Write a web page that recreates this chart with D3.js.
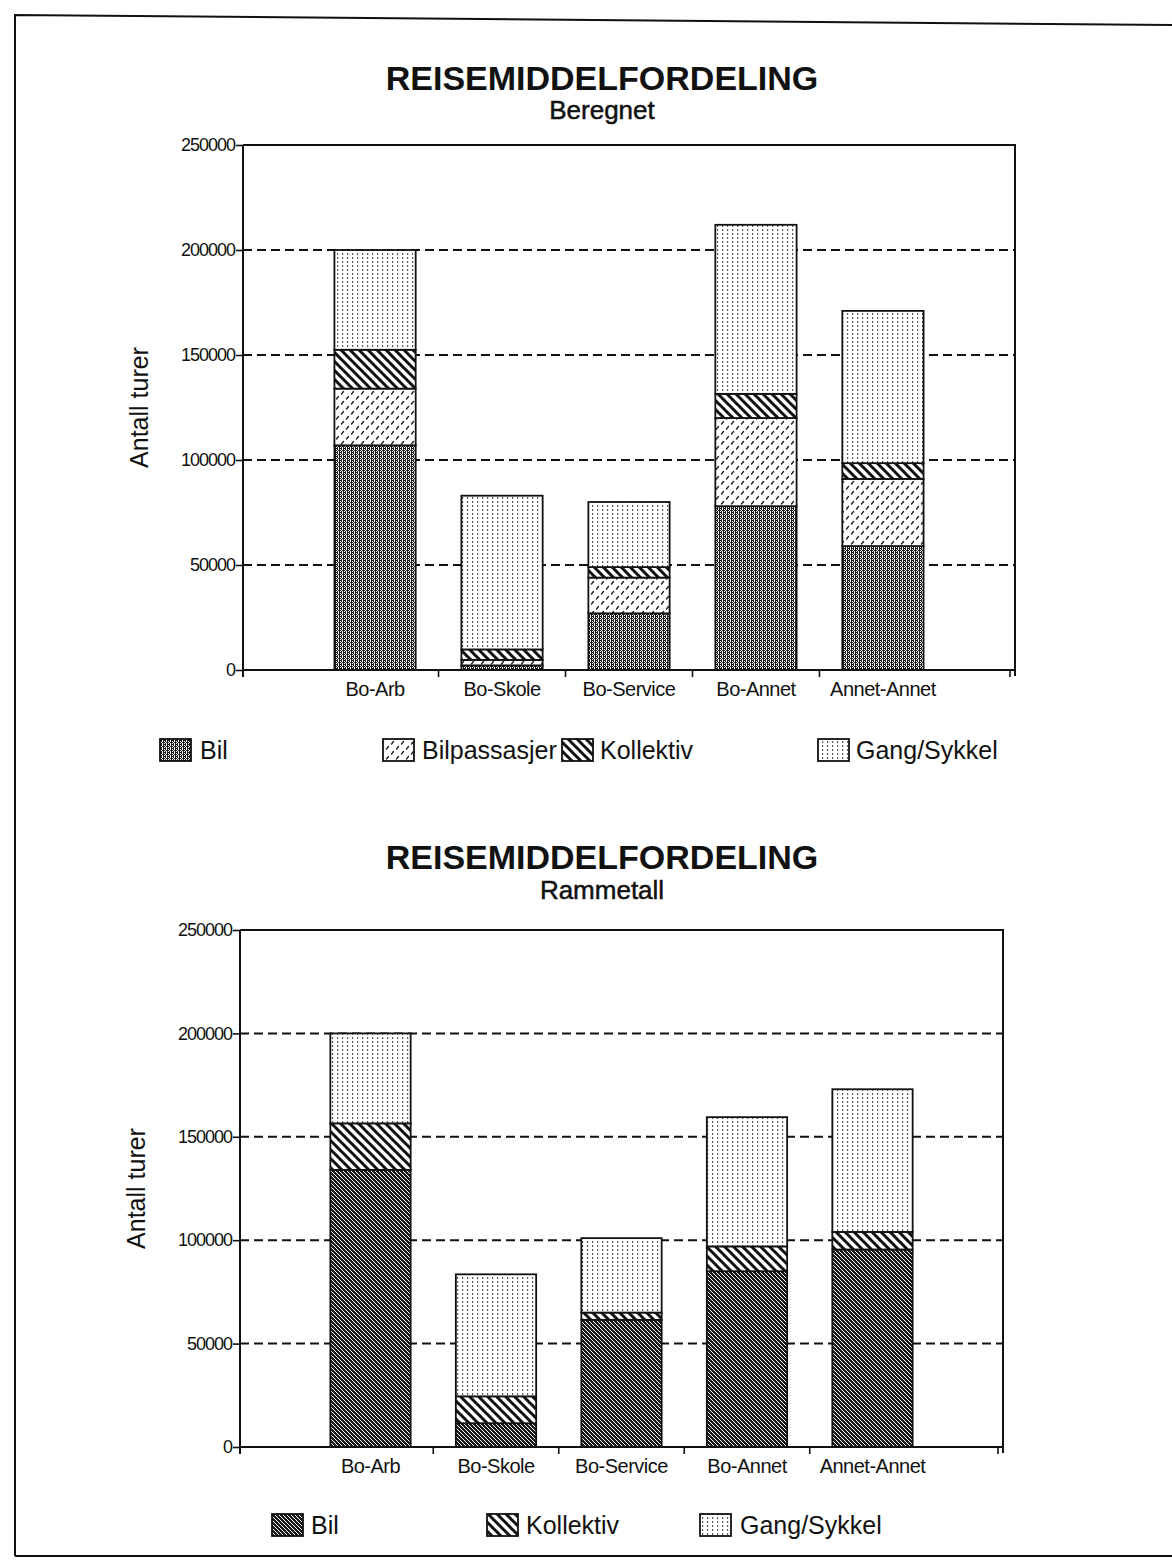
<!DOCTYPE html>
<html>
<head>
<meta charset="utf-8">
<script src="https://cdn.jsdelivr.net/npm/d3@7"></script>
<style>
  body { margin: 0; background: #fff; }
  svg { display: block; }
  text { font-family: "Liberation Sans", Arial, Helvetica, sans-serif; fill: #111; }
</style>
</head>
<body>
<svg id="page" width="1172" height="1564"></svg>
<script>
// ---- data -------------------------------------------------------------
const categories = ["Bo-Arb", "Bo-Skole", "Bo-Service", "Bo-Annet", "Annet-Annet"];
const yTickValues = [0, 50000, 100000, 150000, 200000, 250000];
const gridValues = [50000, 100000, 150000, 200000];

// Beregnet (computed trips)
const beregnetBil          = [107000,  2200, 27000, 78000, 59000];
const beregnetBilpassasjer = [ 27000,  2600, 17000, 42000, 32000];
const beregnetKollektiv    = [ 18500,  5000,  5000, 11500,  7500];
const beregnetGangSykkel   = [ 47500, 73200, 31000, 80500, 72500];

// Rammetall (control totals)
const rammeBil        = [134000, 11500, 61500, 85000, 95500];
const rammeKollektiv  = [ 22500, 13000,  3500, 12000,  8500];
const rammeGangSykkel = [ 43500, 59000, 36000, 62500, 69000];

// ---- page --------------------------------------------------------------
const svg = d3.select("#page");
const defs = svg.append("defs");

function pixelPattern(id, rows, ink) {
  const h = rows.length, w = rows[0].length;
  const p = defs.append("pattern").attr("id", id)
    .attr("patternUnits", "userSpaceOnUse").attr("width", w).attr("height", h);
  p.append("rect").attr("width", w).attr("height", h).attr("fill", "#fff");
  rows.forEach((row, j) => [...row].forEach((c, i) => {
    if (c === "X") p.append("rect").attr("x", i).attr("y", j).attr("width", 1).attr("height", 1).attr("fill", ink);
  }));
}

// private car: mottled dark texture (lighter and darker variant)
pixelPattern("patBil", ["XX.X", ".X.X", "X.XX", ".X.X"], "#1a1a1a");
pixelPattern("patBilDark", [".XXX", "X.XX", "XX.X", "XXX."], "#1a1a1a");

// car passenger: small slanted marks on white
{
  const p = defs.append("pattern").attr("id", "patPass")
    .attr("patternUnits", "userSpaceOnUse").attr("width", 10).attr("height", 10);
  p.append("rect").attr("width", 10).attr("height", 10).attr("fill", "#fff");
  p.append("path").attr("d", "M1.5,4 L3.5,1.5 M6.5,9 L8.5,6.5")
    .attr("stroke", "#222").attr("stroke-width", 1.4).attr("stroke-linecap", "round");
}

// public transport: diagonal stripes
{
  const p = defs.append("pattern").attr("id", "patKoll")
    .attr("patternUnits", "userSpaceOnUse").attr("width", 9).attr("height", 9);
  p.append("rect").attr("width", 9).attr("height", 9).attr("fill", "#fff");
  p.append("path").attr("d", "M-1,-1 L10,10 M-1,8 L1,10 M8,-1 L10,1")
    .attr("stroke", "#111").attr("stroke-width", 3);
}

// walk / bicycle: fine dot grid
{
  const p = defs.append("pattern").attr("id", "patGang")
    .attr("patternUnits", "userSpaceOnUse").attr("width", 5).attr("height", 4);
  p.append("rect").attr("width", 5).attr("height", 4).attr("fill", "#fff");
  p.append("rect").attr("x", 2).attr("y", 1.2).attr("width", 1.2).attr("height", 1.6).attr("fill", "#333");
}

// page frame
svg.append("path").attr("d", "M15,1556 L15,15 L1172,25 M15,1556 L1172,1556")
  .attr("fill", "none").attr("stroke", "#111").attr("stroke-width", 2);

function drawChart(cfg) {
  const g = svg.append("g");
  const x = d3.scaleBand().domain(categories)
    .range([cfg.left, cfg.right]).paddingInner(0.36).paddingOuter(0.72);
  const y = d3.scaleLinear().domain([0, 250000]).range([cfg.bottom, cfg.top]);

  // titles
  g.append("text").attr("x", 602).attr("y", cfg.titleY).attr("text-anchor", "middle")
    .attr("font-size", 34).attr("font-weight", "bold").text("REISEMIDDELFORDELING");
  g.append("text").attr("x", 602).attr("y", cfg.subtitleY).attr("text-anchor", "middle")
    .attr("font-size", 26).attr("stroke", "#111").attr("stroke-width", 0.5).text(cfg.subtitle);

  // dashed grid
  g.selectAll("line.grid").data(gridValues).join("line").attr("class", "grid")
    .attr("x1", cfg.left).attr("x2", cfg.right)
    .attr("y1", d => y(d)).attr("y2", d => y(d))
    .attr("stroke", "#111").attr("stroke-width", 2).attr("stroke-dasharray", "9 5");

  // stacked bars
  const keys = cfg.series.map(s => s.name);
  const rows = categories.map((c, i) => {
    const r = { category: c };
    cfg.series.forEach(s => { r[s.name] = s.values[i]; });
    return r;
  });
  const stacked = d3.stack().keys(keys)(rows);
  const fillOf = Object.fromEntries(cfg.series.map(s => [s.name, s.pattern]));
  g.selectAll("g.layer").data(stacked).join("g").attr("class", "layer")
    .attr("fill", d => `url(#${fillOf[d.key]})`)
    .selectAll("rect").data(d => d).join("rect")
    .attr("x", d => x(d.data.category)).attr("width", x.bandwidth())
    .attr("y", d => y(d[1])).attr("height", d => y(d[0]) - y(d[1]))
    .attr("stroke", "#111").attr("stroke-width", 1.8);

  // frame: top and right edges
  g.append("path")
    .attr("d", `M${cfg.left},${y(250000)} H${cfg.right} V${y(0) + 6}`)
    .attr("fill", "none").attr("stroke", "#111").attr("stroke-width", 2);

  // y axis
  const yAxis = g.append("g").attr("transform", `translate(${cfg.left},0)`)
    .call(d3.axisLeft(y).tickValues(yTickValues).tickFormat(d3.format("d")).tickSize(7).tickPadding(1));
  yAxis.select(".domain").remove();
  yAxis.append("line").attr("x1", 0).attr("x2", 0).attr("y1", y(250000)).attr("y2", y(0) + 7)
    .attr("stroke", "#111").attr("stroke-width", 2);
  yAxis.selectAll(".tick line").attr("stroke", "#111").attr("stroke-width", 1.6);
  yAxis.selectAll(".tick text").attr("font-size", 18).attr("fill", "#111")
    .attr("font-family", "'Liberation Sans', Arial, sans-serif").attr("letter-spacing", -1);

  g.append("text")
    .attr("transform", `translate(${cfg.yTitleX},${(y(0) + y(250000)) / 2}) rotate(-90)`)
    .attr("text-anchor", "middle").attr("font-size", 25).text("Antall turer");

  // x axis: category labels
  const xAxis = g.append("g").attr("transform", `translate(0,${y(0)})`)
    .call(d3.axisBottom(x).tickSize(0).tickPadding(cfg.xLabelPad));
  xAxis.select(".domain").remove();
  xAxis.selectAll(".tick text").attr("font-size", 20).attr("fill", "#111")
    .attr("font-family", "'Liberation Sans', Arial, sans-serif").attr("letter-spacing", -0.5);
  g.append("line").attr("x1", cfg.left).attr("x2", cfg.right)
    .attr("y1", y(0)).attr("y2", y(0)).attr("stroke", "#111").attr("stroke-width", 2);

  // tick marks between categories and at the right end
  const step = x.step();
  const bounds = categories.slice(1).map(c => x(c) - (step - x.bandwidth()) / 2);
  bounds.push(cfg.right - 5);
  g.selectAll("line.xtick").data(bounds).join("line").attr("class", "xtick")
    .attr("x1", d => d).attr("x2", d => d)
    .attr("y1", y(0)).attr("y2", y(0) + 7)
    .attr("stroke", "#111").attr("stroke-width", 1.6);

  // legend
  const leg = g.selectAll("g.legend").data(cfg.legend).join("g").attr("class", "legend");
  leg.append("rect")
    .attr("x", d => d.sx).attr("y", cfg.legendY - 11).attr("width", 31).attr("height", 22)
    .attr("fill", d => `url(#${fillOf[d.name]})`).attr("stroke", "#111").attr("stroke-width", 1.8);
  leg.append("text").attr("x", d => d.tx).attr("y", cfg.legendY + 9)
    .attr("font-size", 25).text(d => d.name);
}

drawChart({
  subtitle: "Beregnet", titleY: 90, subtitleY: 119,
  left: 243, right: 1015, top: 145, bottom: 670,
  yTitleX: 148, xLabelPad: 12, legendY: 750,
  series: [
    { name: "Bil", values: beregnetBil, pattern: "patBil" },
    { name: "Bilpassasjer", values: beregnetBilpassasjer, pattern: "patPass" },
    { name: "Kollektiv", values: beregnetKollektiv, pattern: "patKoll" },
    { name: "Gang/Sykkel", values: beregnetGangSykkel, pattern: "patGang" }
  ],
  legend: [
    { name: "Bil", sx: 160, tx: 200 },
    { name: "Bilpassasjer", sx: 383, tx: 422 },
    { name: "Kollektiv", sx: 562, tx: 600 },
    { name: "Gang/Sykkel", sx: 818, tx: 856 }
  ]
});

drawChart({
  subtitle: "Rammetall", titleY: 869, subtitleY: 899,
  left: 240, right: 1003, top: 930, bottom: 1447,
  yTitleX: 145, xLabelPad: 12, legendY: 1525,
  series: [
    { name: "Bil", values: rammeBil, pattern: "patBilDark" },
    { name: "Kollektiv", values: rammeKollektiv, pattern: "patKoll" },
    { name: "Gang/Sykkel", values: rammeGangSykkel, pattern: "patGang" }
  ],
  legend: [
    { name: "Bil", sx: 272, tx: 311 },
    { name: "Kollektiv", sx: 487, tx: 526 },
    { name: "Gang/Sykkel", sx: 700, tx: 740 }
  ]
});
</script>
</body>
</html>
